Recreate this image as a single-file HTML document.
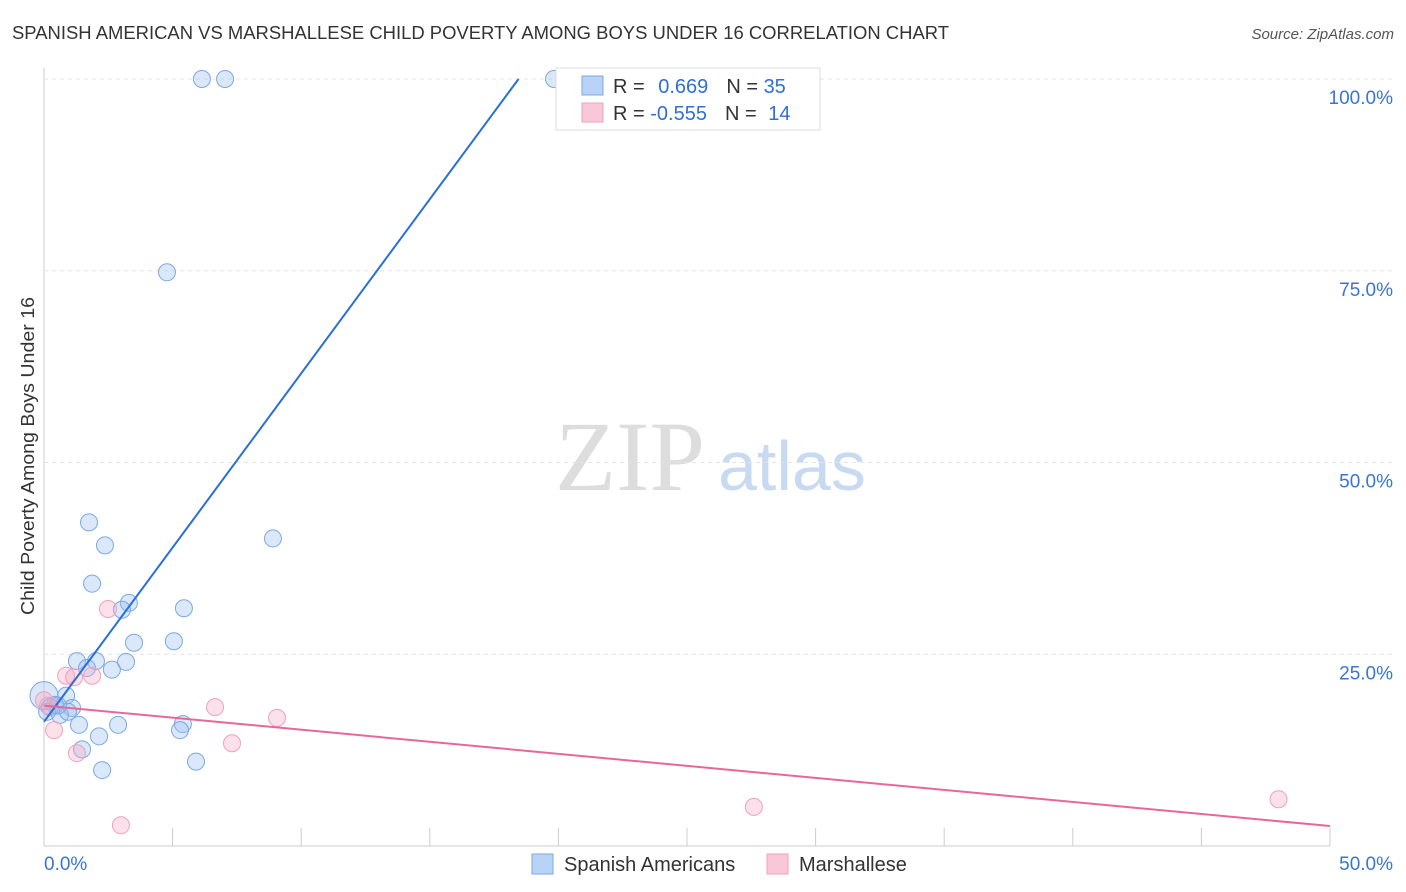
<!DOCTYPE html>
<html><head><meta charset="utf-8"><style>
body{margin:0;background:#fff;font-family:"Liberation Sans",sans-serif;}
#wrap{position:relative;width:1406px;height:892px;overflow:hidden;}
</style></head><body>
<div id="wrap">
<svg id="svg" width="1406" height="892" xmlns="http://www.w3.org/2000/svg">
<text x="12" y="39" font-size="18" fill="#333" textLength="937" lengthAdjust="spacingAndGlyphs">SPANISH AMERICAN VS MARSHALLESE CHILD POVERTY AMONG BOYS UNDER 16 CORRELATION CHART</text>
<text x="1394" y="39" font-size="15" fill="#555" font-style="italic" text-anchor="end">Source: ZipAtlas.com</text>
<text x="34" y="456" font-size="18" fill="#333" text-anchor="middle" textLength="318" lengthAdjust="spacingAndGlyphs" transform="rotate(-90 34 456)">Child Poverty Among Boys Under 16</text>
<text x="555" y="490" font-size="100" fill="#ddd" font-family="Liberation Serif,serif">ZIP</text>
<text x="718" y="490" font-size="70" fill="#c8daf2">atlas</text>
<g id="grid"></g><g id="pts"></g><g id="lines"></g>
<g>
<rect x="556" y="68" width="264" height="62" fill="#fff" stroke="#ddd"/>
<rect x="582" y="76" width="21" height="19" fill="#b8d3f5" stroke="#7aa8e6"/>
<rect x="582" y="103" width="21" height="19" fill="#f9c8d8" stroke="#f0a0bd"/>
<text x="613" y="93" font-size="20" fill="#333">R = <tspan fill="#2f6fd6" dx="8">0.669</tspan><tspan fill="#333" dx="18">N = </tspan><tspan fill="#2f6fd6">35</tspan></text>
<text x="613" y="120" font-size="20" fill="#333">R = <tspan fill="#2f6fd6">-0.555</tspan><tspan fill="#333" dx="18">N = </tspan><tspan fill="#2f6fd6" dx="6">14</tspan></text>
</g>
<g>
<rect x="532" y="854" width="21" height="20" fill="#b8d3f5" stroke="#7aa8e6"/>
<text x="564" y="871" font-size="20" fill="#333">Spanish Americans</text>
<rect x="767" y="854" width="21" height="20" fill="#f9c8d8" stroke="#f0a0bd"/>
<text x="799" y="871" font-size="20" fill="#333">Marshallese</text>
</g>
</svg></div>
<script>
const blueX=[6.14,7.04,19.83,4.78,1.75,2.37,1.87,8.9,3.3,3.03,5.44,3.5,5.05,1.28,2.02,1.67,2.64,3.19,0,0.86,0.43,0.23,1.09,0.62,0.93,1.36,2.88,5.4,5.29,2.14,1.48,5.91,2.26,0.12,0.54];
const blueY=[100,100,100,74.8,42.2,39.2,34.2,40.1,31.7,30.8,31.0,26.5,26.7,24.1,24.1,23.2,23.0,24.0,19.6,19.6,18.4,18.1,18.0,17.1,17.5,15.8,15.8,15.9,15.1,14.3,12.6,11.0,9.9,17.5,18.3];
const pinkX=[2.49,0.86,1.87,1.17,6.65,9.06,0.39,7.31,1.28,2.99,27.6,48.0,0,0.16];
const pinkY=[30.9,22.2,22.2,22.0,18.1,16.7,15.1,13.4,12.1,2.7,5.1,6.1,19.0,18.3];
const blueLine=[[0,16.2],[18.45,100]];
const pinkLine=[[0,18.3],[50,2.6]];
const yTicks=[25,50,75,100];
const xTicks=[0,5,10,15,20,25,30,35,40,45,50];
const NS="http://www.w3.org/2000/svg";
const sx=v=>44+v*25.72, sy=v=>846-v*7.67;
function mk(tag,attrs,parent){const e=document.createElementNS(NS,tag);for(const k in attrs)e.setAttribute(k,attrs[k]);document.getElementById(parent).appendChild(e);return e;}
const g='grid';
let e=mk('line',{x1:44,x2:44,y1:68,y2:846,stroke:'#ccc'},g);


e=mk('line',{x1:44,x2:1330,y1:846,y2:846,stroke:'#ccc'},g);


yTicks.forEach(t=>{
 e=mk('line',{x1:44,x2:1394,y1:sy(t),y2:sy(t),stroke:'#e4e4e4','stroke-dasharray':'4 4'},g);
 
 
 e=mk('text',{x:1393,y:sy(t)+25,'font-size':19,fill:'#3a75d0','text-anchor':'end'},g);e.textContent=t.toFixed(1)+'%';
 
 
});
xTicks.forEach(t=>{
 e=mk('line',{x1:sx(t),x2:sx(t),y1:828,y2:846,stroke:'#ccc'},g);
 
 
});
e=mk('text',{x:44,y:870,'font-size':19,fill:'#3a75d0'},g);e.textContent='0.0%';


e=mk('text',{x:1393,y:870,'font-size':19,fill:'#3a75d0','text-anchor':'end'},g);e.textContent='50.0%';


blueX.forEach((x,i)=>{
 e=mk('circle',{cx:sx(x),cy:sy(blueY[i]),r:(x===0?14:8.5),fill:'rgba(150,190,240,0.35)',stroke:'#7aa8e6','stroke-width':1},'pts');
 
 
});
pinkX.forEach((x,i)=>{
 e=mk('circle',{cx:sx(x),cy:sy(pinkY[i]),r:8.5,fill:'rgba(245,170,195,0.35)',stroke:'#f0a0bd','stroke-width':1},'pts');
 
 
});
e=mk('line',{x1:sx(blueLine[0][0]),y1:sy(blueLine[0][1]),x2:sx(blueLine[1][0]),y2:sy(blueLine[1][1]),stroke:'#2a6fd6','stroke-width':2},'lines');


e=mk('line',{x1:sx(pinkLine[0][0]),y1:sy(pinkLine[0][1]),x2:sx(pinkLine[1][0]),y2:sy(pinkLine[1][1]),stroke:'#e8679a','stroke-width':2},'lines');


</script>
</body></html>
